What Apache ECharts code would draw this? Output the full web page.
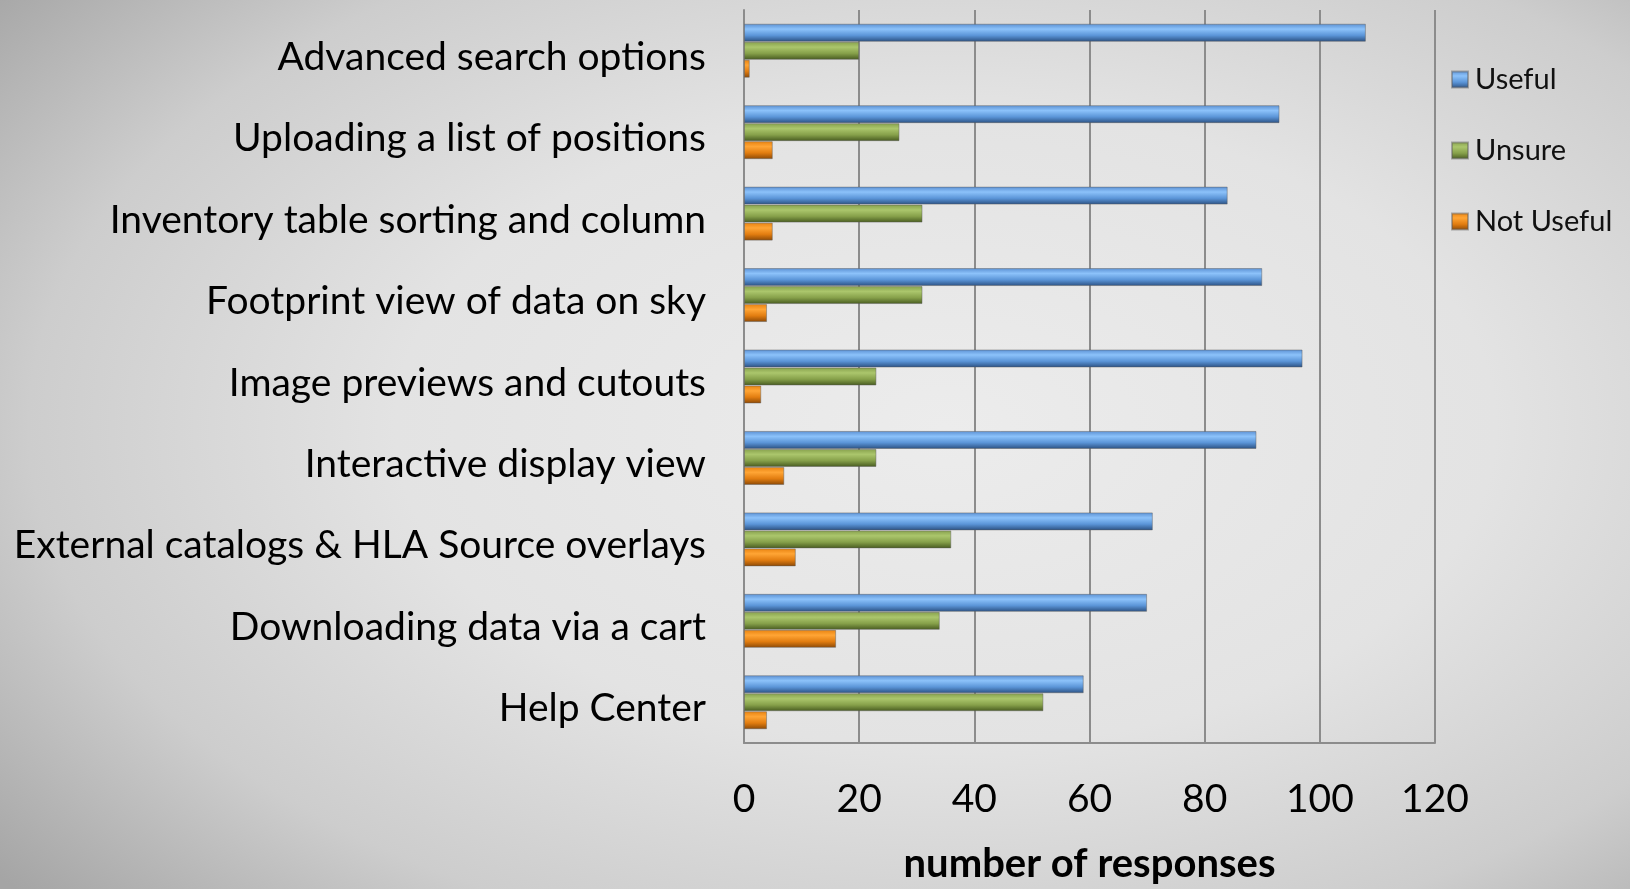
<!DOCTYPE html>
<html>
<head>
<meta charset="utf-8">
<script src="https://cdn.jsdelivr.net/npm/echarts@6/dist/echarts.min.js"></script>
<style>
  html, body { margin: 0; padding: 0; }
  body {
    width: 1630px;
    height: 889px;
    background: radial-gradient(ellipse 75% 80% at 58% 48%, #ececec 0%, #e3e3e3 45%, #cdcdcd 75%, #a5a5a5 100%);
  }
  #chart { width: 1630px; height: 889px; }
</style>
</head>
<body>
<div id="chart"></div>
<script>
  const features = [
    "Advanced search options",
    "Uploading a list of positions",
    "Inventory table sorting and column",
    "Footprint view of data on sky",
    "Image previews and cutouts",
    "Interactive display view",
    "External catalogs & HLA Source overlays",
    "Downloading data via a cart",
    "Help Center"
  ];
  const useful = [108, 93, 84, 90, 97, 89, 71, 70, 59];
  const unsure = [20, 27, 31, 31, 23, 23, 36, 34, 52];
  const notUseful = [1, 5, 5, 4, 3, 7, 9, 16, 4];

  const fontFamily = "Lato, 'Open Sans', sans-serif";

  // vertical gradient gives the bars their rounded "tube" look
  function tube(stops) {
    return new echarts.graphic.LinearGradient(0, 0, 0, 1, [
      { offset: 0, color: stops[0] },
      { offset: 0.3, color: stops[1] },
      { offset: 0.65, color: stops[2] },
      { offset: 1, color: stops[3] }
    ]);
  }

  function barSeries(name, data, flat, stops) {
    return {
      name: name,
      type: "bar",
      data: data,
      barWidth: 18,
      barGap: "0%",
      color: flat,
      itemStyle: {
        color: tube(stops),
        borderColor: "rgba(90, 90, 90, 0.45)",
        borderWidth: 1
      }
    };
  }

  const chart = echarts.init(document.getElementById("chart"));
  chart.setOption({
    animation: false,
    textStyle: { fontFamily: fontFamily },
    grid: { left: 744, right: 195, top: 10, bottom: 136 },
    legend: {
      orient: "vertical",
      left: 1446,
      top: 60,
      itemWidth: 16,
      itemHeight: 16,
      itemGap: 42,
      icon: "rect",
      textStyle: { fontSize: 29, color: "#111", fontFamily: fontFamily, padding: [0, 0, 0, 2] },
      data: ["Useful", "Unsure", "Not Useful"]
    },
    xAxis: {
      type: "value",
      min: 0,
      max: 120,
      interval: 20,
      name: "number of responses",
      nameLocation: "middle",
      nameGap: 101,
      nameTextStyle: { fontSize: 40, fontWeight: "bold", color: "#000", fontFamily: fontFamily },
      axisLine: { show: true, lineStyle: { color: "#8c8c8c", width: 2 } },
      axisTick: { show: false },
      axisLabel: { fontSize: 39, color: "#000", margin: 37 },
      splitLine: { show: true, lineStyle: { color: "#8c8c8c", width: 2 } }
    },
    yAxis: {
      type: "category",
      inverse: true,
      data: features,
      axisLine: { show: true, lineStyle: { color: "#8c8c8c", width: 2 } },
      axisTick: { show: false },
      axisLabel: {
        fontSize: 39,
        color: "#000",
        margin: 38,
        formatter: function (value) { return "{t|" + value + "}"; },
        rich: { t: { fontSize: 39, color: "#000", padding: [13, 0, 0, 0] } }
      }
    },
    series: [
      barSeries("Useful", useful, "#629ee0", ["#5a8fd2", "#8cc2fa", "#5b95d8", "#2a4f80"]),
      barSeries("Unsure", unsure, "#8ba84c", ["#86a04c", "#abc66c", "#86a04a", "#46591f"]),
      barSeries("Not Useful", notUseful, "#ee8008", ["#e8820f", "#ffa535", "#e27d10", "#8a4806"])
    ]
  });
</script>
</body>
</html>
